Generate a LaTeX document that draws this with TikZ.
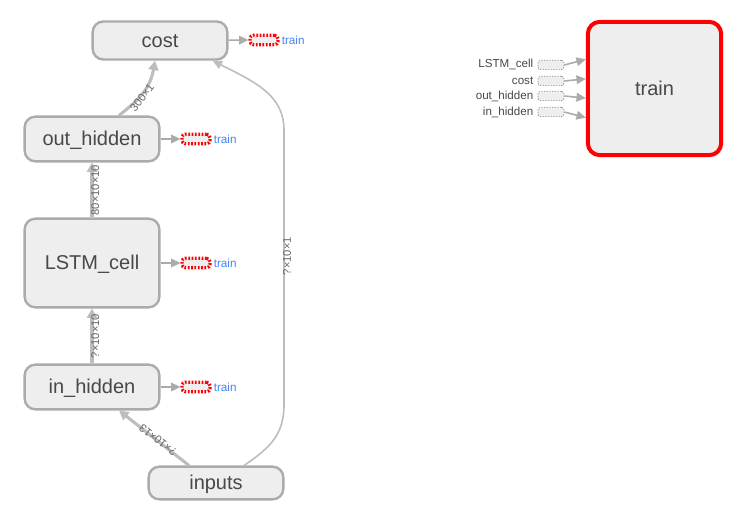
\documentclass[tikz,border=0pt]{standalone}
\usepackage{fontspec}
\setmainfont{Liberation Sans}
\usetikzlibrary{arrows.meta}
\definecolor{nodefill}{HTML}{EEEEEE}
\definecolor{nodeline}{HTML}{ABABAB}
\definecolor{edgeline}{HTML}{BDBDBD}
\definecolor{txt}{HTML}{484848}
\definecolor{lbl}{HTML}{666666}
\definecolor{trainblue}{HTML}{4285F4}
\tikzset{
  opbox/.style={draw=nodeline,fill=nodefill,line width=1.8pt,rounded corners=8pt,text=txt,font=\fontsize{15}{18}\selectfont,inner sep=0pt,minimum width=101pt,text height=12pt,text depth=2pt},
  stub/.style={draw=red,fill=nodefill,line width=2.4pt,dash pattern=on 1.3pt off 1.2pt,rounded corners=2.5pt,minimum width=21pt,minimum height=7pt,inner sep=0pt},
  instub/.style={draw=gray!90,fill=nodefill,line width=.5pt,dash pattern=on 1pt off 1pt,rounded corners=2pt,minimum width=19.5pt,minimum height=7pt,inner sep=0pt},
  trainlbl/.style={text=trainblue,font=\fontsize{8.8}{10}\selectfont,inner sep=0pt,anchor=west},
  inlbl/.style={text=txt,font=\fontsize{8.7}{10}\selectfont,inner sep=0pt,anchor=east},
  edgelbl/.style={text=lbl,font=\fontsize{8.4}{10}\selectfont,inner sep=0pt},
  arr/.style={draw=edgeline,-{Triangle[length=7pt,width=6.5pt,fill=edgeline]},line width=1.2pt},
  thickarr/.style={draw=edgeline,-{Triangle[length=7pt,width=7.5pt,fill=edgeline]},line width=2.3pt},
  sidearr/.style={draw=nodeline,-{Triangle[length=7pt,width=6.5pt,fill=nodeline]},line width=1.2pt},
}
\begin{document}
\begin{tikzpicture}[x=0.75pt,y=-0.75pt]
\useasboundingbox (0,0) rectangle (755,524);
\node[opbox,minimum height=28.5pt] (cost) at (160,40.5) {cost};
\node[opbox,minimum height=33.5pt] (out) at (92,139) {out\_hidden};
\node[opbox,minimum height=66.5pt] (lstm) at (92,263) {LSTM\_cell};
\node[opbox,minimum height=33.5pt] (in) at (92,387) {in\_hidden};
\node[opbox,minimum height=24.5pt] (inputs) at (216,483) {inputs};
\node[opbox,draw=red,line width=3pt,rounded corners=9pt,minimum width=100pt,minimum height=100pt] (train) at (654.5,88.5) {train};
% stubs on the left part
\node[stub] (s1) at (264,40) {};
\node[stub] (s2) at (196,139) {};
\node[stub] (s3) at (196,263) {};
\node[stub] (s4) at (196,387) {};
\node[trainlbl] (t1) at (281.5,40) {train};
\node[trainlbl] (t2) at (213.5,139) {train};
\node[trainlbl] (t3) at (213.5,263) {train};
\node[trainlbl] (t4) at (213.5,387) {train};
\draw[sidearr] (cost) -- (s1);
\draw[sidearr] (out) -- (s2);
\draw[sidearr] (lstm) -- (s3);
\draw[sidearr] (in) -- (s4);
% stubs on the right part
\node[instub] (a1) at (551,65) {};
\node[instub] (a2) at (551,81) {};
\node[instub] (a3) at (551,96) {};
\node[instub] (a4) at (551,112) {};
\node[inlbl] (b1) at (533.5,64.5) {LSTM\_cell};
\node[inlbl] (b2) at (533.5,80.5) {cost};
\node[inlbl] (b3) at (533.5,96) {out\_hidden};
\node[inlbl] (b4) at (533.5,112) {in\_hidden};
\draw[sidearr] (a1.east) -- (train.157);
\draw[sidearr] (a2.east) -- (train.172);
\draw[sidearr] (a3.east) -- (train.188);
\draw[sidearr] (a4.east) -- (train.203);
% main edges
\draw[thickarr] (lstm.north) -- (out.south) node[midway,edgelbl,rotate=90,yshift=-2.5pt] {80×10×10};
\draw[thickarr] (in.north) -- (lstm.south) node[midway,edgelbl,rotate=90,yshift=-2.5pt] {?×10×10};
\draw[thickarr] (out.41.5) .. controls (137,101) and (150,90) .. (cost.256);
\node[edgelbl,rotate=52] (l300) at (142,97.5) {300×1};
\draw[thickarr] (inputs.147) -- (in.-41.5);
\node[edgelbl,rotate=142] (l13) at (158,440) {?×10×13};
\draw[arr] (inputs.32) .. controls (268,449) and (284,436) .. (284,405) -- (284,130) .. controls (284,95) and (255,82) .. (cost.-21.6);
\node[edgelbl,rotate=90] (l1) at (287,256) {?×10×1};
\end{tikzpicture}
\end{document}
